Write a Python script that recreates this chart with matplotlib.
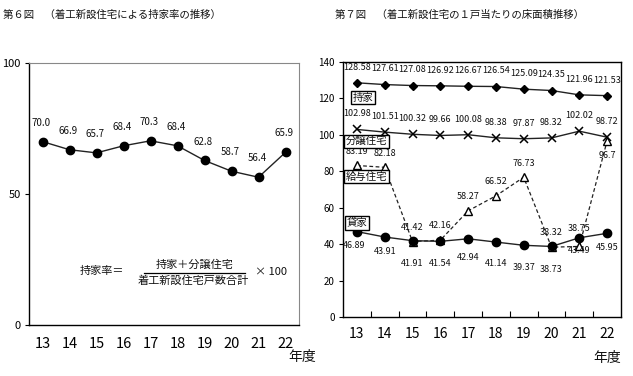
import matplotlib
matplotlib.use("Agg")
import matplotlib.pyplot as plt
from matplotlib.lines import Line2D

plt.rcParams['font.family'] = ['Noto Sans CJK JP', 'DejaVu Sans']

# ---- data ----
years = ["13", "14", "15", "16", "17", "18", "19", "20", "21", "22"]
ownership_rate = [70.0, 66.9, 65.7, 68.4, 70.3, 68.4, 62.8, 58.7, 56.4, 65.9]

mochiie = [128.58, 127.61, 127.08, 126.92, 126.67, 126.54, 125.09, 124.35, 121.96, 121.53]
bunjo = [102.98, 101.51, 100.32, 99.66, 100.08, 98.38, 97.87, 98.32, 102.02, 98.72]
kyuyo = [83.19, 82.18, 41.42, 42.16, 58.27, 66.52, 76.73, 38.32, 38.75, 96.7]
kashiya = [46.89, 43.91, 41.91, 41.54, 42.94, 41.14, 39.37, 38.73, 43.49, 45.95]

left_yticks = [0, 50, 100]
right_yticks = [0, 20, 40, 60, 80, 100, 120, 140]

W, H = 633, 376
fig = plt.figure(figsize=(W / 100, H / 100), dpi=100)


def fx(px):
    return px / W


def fy(py):
    return 1 - py / H


x = list(range(len(years)))
ink = "#111111"

# ---------------- Left chart ----------------
axL = fig.add_axes([fx(29), fy(325), (299 - 29) / W, (325 - 63) / H])
axL.plot(x, ownership_rate, color="#222222", lw=1.0, marker="o", ms=6,
         mfc="black", mec="black")
for i, v in enumerate(ownership_rate):
    axL.annotate(f"{v:.1f}", (i, v), xytext=(-1, 10), textcoords="offset points",
                 ha="center", va="bottom", fontsize=7, color=ink)
axL.set_xlim(-0.5, len(years) - 0.5)
axL.set_ylim(0, 100)
axL.set_yticks(left_yticks)
axL.set_yticklabels([str(t) for t in left_yticks], fontsize=8)
axL.set_xticks(x)
axL.set_xticklabels(years, fontsize=10.5)
axL.tick_params(axis="x", length=0, pad=9)
axL.tick_params(axis="y", length=3, width=0.8, direction="out", pad=3)
for s in ["left", "bottom"]:
    axL.spines[s].set_color("black")
    axL.spines[s].set_linewidth(1.0)
for s in ["top", "right"]:
    axL.spines[s].set_color("#888888")
    axL.spines[s].set_linewidth(0.8)

# formula
fig.text(fx(80), fy(271), "持家率＝", fontsize=8, ha="left", va="center", color=ink)
fig.text(fx(195), fy(265), "持家＋分譲住宅", fontsize=8, ha="center", va="center", color=ink)
fig.add_artist(Line2D([fx(144), fx(245)], [fy(273), fy(273)], color="black", lw=0.9))
fig.text(fx(193), fy(281), "着工新設住宅戸数合計", fontsize=8, ha="center", va="center", color=ink)
fig.text(fx(255), fy(272), "× 100", fontsize=8, ha="left", va="center", color=ink)

fig.text(fx(288), fy(357), "年度", fontsize=10, ha="left", va="center", color=ink)
fig.text(fx(3), fy(15), "第６図　（着工新設住宅による持家率の推移）", fontsize=7.5,
         ha="left", va="center", color=ink)

# ---------------- Right chart ----------------
axR = fig.add_axes([fx(343), fy(317), (621 - 343) / W, (317 - 62) / H])
axR.plot(x, mochiie, color="#222222", lw=1.0, marker="D", ms=4.5,
         mfc="black", mec="black")
axR.plot(x, bunjo, color="#222222", lw=1.0, marker="x", ms=6, mew=1.1,
         mec="black")
axR.plot(x, kyuyo, color="#222222", lw=0.9, ls=(0, (3, 2)), marker="^", ms=6,
         mfc="white", mec="black", mew=1.0)
axR.plot(x, kashiya, color="#222222", lw=1.0, marker="o", ms=6,
         mfc="black", mec="black")

lab_fs = 6.5
for i, v in enumerate(mochiie):
    axR.annotate(f"{v:.2f}", (i, v), xytext=(0, 8), textcoords="offset points",
                 ha="center", va="bottom", fontsize=lab_fs, color=ink)
for i, v in enumerate(bunjo):
    axR.annotate(f"{v:.2f}", (i, v), xytext=(0, 8), textcoords="offset points",
                 ha="center", va="bottom", fontsize=lab_fs, color=ink)
kyuyo_off = [(0, 7), (0, 7), (0, 7), (0, 7), (0, 7), (0, 7), (0, 7), (0, 7), (0, 10), (0, -7)]
for i, v in enumerate(kyuyo):
    dx, dy = kyuyo_off[i]
    axR.annotate(f"{v:g}", (i, v), xytext=(dx, dy), textcoords="offset points",
                 ha="center", va="bottom" if dy > 0 else "top", fontsize=lab_fs, color=ink)
kashiya_off = [(-2, -7), (0, -7), (0, -13), (0, -13), (0, -10), (0, -12), (0, -13), (0, -13), (0, -6), (0, -7)]
for i, v in enumerate(kashiya):
    dx, dy = kashiya_off[i]
    axR.annotate(f"{v:.2f}", (i, v), xytext=(dx, dy), textcoords="offset points",
                 ha="center", va="top", fontsize=lab_fs, color=ink)

box = dict(boxstyle="square,pad=0.15", fc="white", ec="black", lw=1.0)
series_names = [("持家", 120.3, -0.14), ("分譲住宅", 96.5, -0.39),
                ("給与住宅", 77.0, -0.39), ("貸家", 51.6, -0.36)]
for name, yv, xv in series_names:
    axR.text(xv, yv, name, fontsize=7.5, ha="left", va="center", bbox=box, color=ink)

axR.set_xlim(-0.5, len(years) - 0.5)
axR.set_ylim(0, 140)
axR.set_yticks(right_yticks)
axR.set_yticklabels([str(t) for t in right_yticks], fontsize=7)
axR.set_xticks(x)
axR.set_xticklabels(years, fontsize=10)
axR.set_xticks([i + 0.5 for i in range(len(years) - 1)], minor=True)
axR.tick_params(axis="x", which="major", length=0, pad=7)
axR.tick_params(axis="x", which="minor", length=4, width=0.8, direction="in")
axR.tick_params(axis="y", length=3, width=0.8, direction="out", pad=3)
for s in axR.spines.values():
    s.set_color("black")
    s.set_linewidth(1.0)

fig.text(fx(593), fy(358), "年度", fontsize=10, ha="left", va="center", color=ink)
fig.text(fx(335), fy(15), "第７図　（着工新設住宅の１戸当たりの床面積推移）", fontsize=7.5,
         ha="left", va="center", color=ink)

fig.savefig("out.png", dpi=100)
